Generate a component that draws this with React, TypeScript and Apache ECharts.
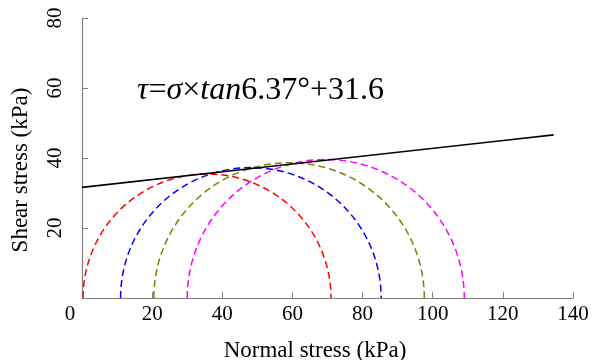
import React, { useEffect, useRef } from "react";
import * as echarts from "echarts";

// Mohr circles: minor and major principal stresses (kPa)
const SIGMA3 = [0.3, 11, 20.5, 30];
const SIGMA1 = [71, 85.3, 97.6, 109];
const CIRCLE_COLORS = ["#ff0000", "#0000ff", "#808000", "#ff00ff"];

// Mohr–Coulomb failure envelope
const FRICTION_ANGLE_DEG = 6.37;
const COHESION = 31.6;
const ENVELOPE_SIGMA = [0, 134.5];

const X_TICKS = [0, 20, 40, 60, 80, 100, 120, 140];
const Y_TICKS = [0, 20, 40, 60, 80];

const FONT = "Times New Roman";

export default function App() {
  const ref = useRef<HTMLDivElement>(null);

  useEffect(() => {
    if (!ref.current) return;
    const chart = echarts.init(ref.current, null, { renderer: "svg" });
    const tanPhi = Math.tan((FRICTION_ANGLE_DEG * Math.PI) / 180);
    const envelope = ENVELOPE_SIGMA.map((s) => [s, COHESION + s * tanPhi]);
    const circles = SIGMA3.map((s3, i) => [s3, SIGMA1[i]]);

    const axisLine = { show: true, lineStyle: { color: "#808080", width: 1.2 } };
    const axisTick = { show: true, inside: true, length: 6, lineStyle: { color: "#808080" } };

    chart.setOption({
      animation: false,
      grid: { left: 82, right: 20, top: 18, bottom: 62 },
      xAxis: {
        type: "value",
        min: X_TICKS[0],
        max: X_TICKS[X_TICKS.length - 1],
        interval: 20,
        axisLine,
        axisTick,
        splitLine: { show: false },
        axisLabel: {
          color: "#000",
          fontFamily: FONT,
          fontSize: 21,
          margin: 4,
          showMinLabel: false,
        },
      },
      yAxis: {
        type: "value",
        min: Y_TICKS[0],
        max: Y_TICKS[Y_TICKS.length - 1],
        interval: 20,
        axisLine,
        axisTick,
        splitLine: { show: false },
        axisLabel: {
          color: "#000",
          fontFamily: FONT,
          fontSize: 21,
          rotate: 90,
          margin: 18,
          showMinLabel: false,
        },
      },
      series: [],
    });

    // Map data values to pixels through the grid's axes
    const px = (v: number[]) =>
      chart.convertToPixel({ gridIndex: 0 }, v) as unknown as number[];

    const arcs = circles.map(([s3, s1], i) => {
      const c = px([(s3 + s1) / 2, 0]);
      const edge = px([s1, 0]);
      return {
        type: "arc",
        z: 10,
        silent: true,
        shape: {
          cx: c[0],
          cy: c[1],
          r: edge[0] - c[0],
          startAngle: Math.PI,
          endAngle: 2 * Math.PI,
          clockwise: true,
        },
        style: {
          stroke: CIRCLE_COLORS[i],
          lineWidth: 1.5,
          lineDash: [7, 4],
        },
      };
    });

    const p0 = px(envelope[0]);
    const p1 = px(envelope[1]);
    const origin = px([X_TICKS[0], Y_TICKS[0]]);

    chart.setOption({
      graphic: [
        ...arcs,
        {
          type: "line",
          z: 11,
          silent: true,
          shape: { x1: p0[0], y1: p0[1], x2: p1[0], y2: p1[1] },
          style: { stroke: "#000", lineWidth: 1.6 },
        },
        {
          type: "text",
          x: origin[0] - 12,
          y: origin[1] + 4,
          style: {
            text: String(X_TICKS[0]),
            font: "21px 'Times New Roman'",
            fill: "#000",
            textAlign: "center",
            textVerticalAlign: "top",
          },
        },
        {
          type: "text",
          x: 137,
          y: 88,
          style: {
            text: "{i|τ}{n|=}{i|σ}{n|×}{i|tan}{n|6.37°+31.6}",
            font: "32px 'Times New Roman'",
            fill: "#000",
            textAlign: "left",
            textVerticalAlign: "middle",
            rich: {
              i: { font: "italic 32px 'Times New Roman'" },
              n: { font: "32px 'Times New Roman'" },
            },
          },
        },
        {
          type: "text",
          x: 315,
          y: 349,
          style: {
            text: "Normal stress (kPa)",
            font: "23px 'Times New Roman'",
            fill: "#000",
            textAlign: "center",
            textVerticalAlign: "middle",
          },
        },
        {
          type: "text",
          x: 19,
          y: 170,
          rotation: Math.PI / 2,
          style: {
            text: "Shear stress (kPa)",
            font: "23px 'Times New Roman'",
            fill: "#000",
            textAlign: "center",
            textVerticalAlign: "middle",
          },
        },
      ],
    });

    return () => chart.dispose();
  }, []);

  return (
    <div
      ref={ref}
      style={{ position: "fixed", left: 0, top: 0, width: 593, height: 360 }}
    />
  );
}
